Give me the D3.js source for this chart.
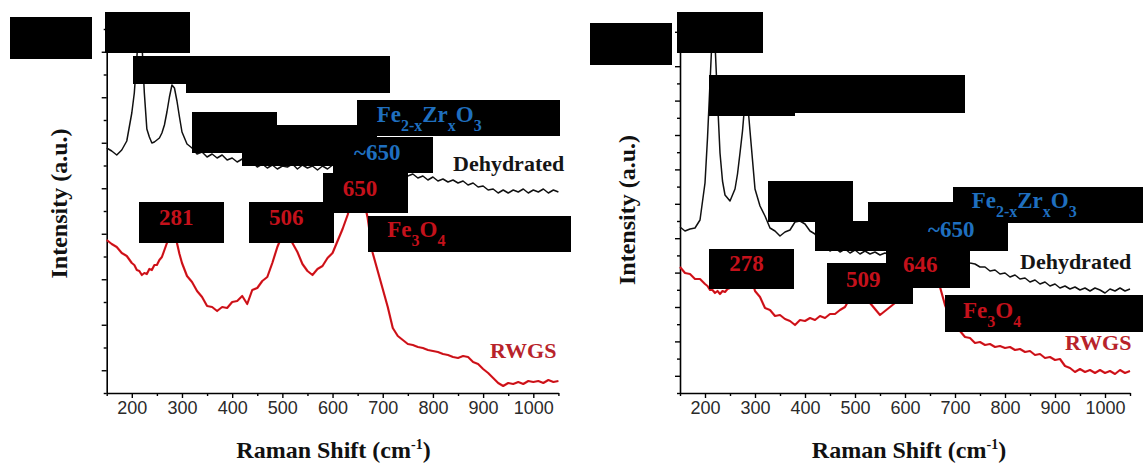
<!DOCTYPE html>
<html>
<head>
<meta charset="utf-8">
<script src="https://cdnjs.cloudflare.com/ajax/libs/d3/7.8.5/d3.min.js"></script>
<style>
  body { margin: 0; background: #fff; }
  svg { display: block; }
</style>
</head>
<body>
<div id="chart"></div>
<script>
// Raman shift grid (cm-1) shared by all four spectra
var shift = [
  150, 160, 170, 180, 190,
  200, 205, 210, 215, 220, 225, 230, 235, 240, 245, 250, 255, 260, 265, 270, 275, 280, 285, 290, 295, 300,
  310, 320, 330, 340, 350, 360, 370, 380, 390, 400,
  410, 420, 430, 440, 450, 460, 470, 480, 490, 500,
  510, 520, 530, 540, 550, 560, 570, 580, 590, 600,
  610, 620, 630, 640, 650, 660, 670, 680, 690, 700,
  710, 720, 730, 740, 750, 760, 770, 780, 790, 800,
  810, 820, 830, 840, 850, 860, 870, 880, 890, 900,
  910, 920, 930, 940, 950, 960, 970, 980, 990, 1000,
  1010, 1020, 1030, 1040, 1050
];

// left panel, intensity in arbitrary counts
var dehydratedLeft = [
  245, 242, 238, 243, 252,
  280, 300, 335, 372, 352, 300, 264, 256, 250, 251, 253, 255, 260, 268, 281, 296, 308, 305, 292, 276, 261,
  249, 245, 239, 241, 236, 239, 235, 238, 233, 235,
  231, 234, 229, 231, 226, 229, 225, 228, 224, 227,
  226, 229, 224, 228, 225, 227, 223, 227, 224, 228,
  227, 231, 230, 234, 232, 235, 231, 232, 227, 228,
  223, 224, 219, 221, 217, 219, 215, 217, 213, 216,
  212, 214, 211, 213, 210, 212, 208, 210, 206, 207,
  203, 204, 200, 203, 200, 203, 201, 204, 200, 203,
  201, 204, 200, 203, 201
];
var rwgsLeft = [
  153, 149, 146, 140, 137,
  130, 128, 123, 122, 118, 120, 119, 124, 123, 128, 128, 133, 136, 143, 150, 160, 166, 162, 150, 139, 130,
  117, 111, 102, 96, 87, 86, 82, 86, 85, 91,
  92, 97, 89, 103, 105, 112, 116, 130, 146, 158,
  160, 150, 141, 129, 122, 118, 124, 127, 135, 140,
  152, 164, 178, 195, 205, 198, 175, 140, 122, 104,
  86, 65, 57, 53, 49, 48, 46, 45, 43, 42,
  41, 39, 38, 36, 35, 37, 36, 31, 29, 24,
  20, 15, 10, 7, 10, 9, 11, 9, 12, 11,
  12, 10, 13, 11, 12
];

// right panel
var dehydratedRight = [
  166, 162, 164, 165, 173,
  210, 255, 310, 365, 350, 293, 240, 212, 198, 195, 192, 198, 204, 219, 240, 262, 292, 292, 262, 233, 204,
  187, 177, 165, 162, 157, 161, 163, 171, 172, 169,
  162, 159, 151, 147, 142, 145, 141, 144, 140, 143,
  139, 142, 139, 141, 138, 140, 138, 141, 138, 142,
  139, 143, 140, 144, 141, 143, 140, 141, 137, 138,
  134, 134, 130, 129, 126, 126, 122, 123, 119, 120,
  116, 118, 114, 115, 111, 113, 109, 111, 107, 109,
  105, 107, 104, 106, 103, 105, 102, 105, 103, 100,
  104, 102, 105, 102, 104
];
var rwgsRight = [
  126, 120, 119, 114, 114,
  109, 107, 103, 103, 100, 102, 99, 102, 101, 104, 105, 111, 114, 121, 124, 128, 129, 125, 118, 111, 102,
  96, 85, 83, 77, 78, 74, 72, 68, 73, 72,
  75, 73, 77, 75, 79, 79, 83, 86, 95, 110,
  122, 108, 90, 84, 78, 82, 86, 90, 96, 103,
  110, 116, 122, 128, 130, 122, 106, 88, 76, 67,
  62, 56, 55, 50, 51, 48, 49, 46, 47, 45,
  46, 43, 44, 41, 42, 38, 39, 35, 36, 33,
  34, 27, 25, 21, 24, 21, 23, 20, 23, 20,
  22, 19, 23, 20, 22
];

var xTickLabels = [200, 300, 400, 500, 600, 700, 800, 900, 1000];
var xMinorTicks = [150, 250, 350, 450, 550, 650, 750, 850, 950, 1050];

var BLUE = "#1f6fbf", RED = "#c4111b", SERIF = "'Liberation Serif', 'Times New Roman', serif";

var svg = d3.select("#chart").append("svg")
            .attr("width", 1143)
            .attr("height", 463)
            .style("background", "#fff");

var panels = [
  {
    left: 106.7, right: 558.4, top: 29, bottom: 393, yStep: 22.75, yCount: 16,
    titleX: 333.5, yTitleX: 67, yTitleY: 203.5,
    dehydrated: dehydratedLeft, rwgs: rwgsLeft,
    boxes: [[10,17,92,59],[105,12,190,53],[133,56,390,84],[186,56,390,93],[192,112,277,153],
            [242,125,377,166],[333,137,433,173],[357,100,560,136],[323,173,408,213],
            [139,202,224,243],[249,202,334,243],[368,216,571,252]],
    labels: [
      {x: 376.7, y: 121.7, c: BLUE, parts: [["Fe"],["2-x",1],["Zr"],["x",1],["O"],["3",1]]},
      {x: 354, y: 160, c: BLUE, parts: [["~650"]]},
      {x: 453, y: 171, c: "#151515", s: 22, parts: [["Dehydrated"]]},
      {x: 342.7, y: 195.7, c: RED, parts: [["650"]]},
      {x: 159, y: 225, c: RED, parts: [["281"]]},
      {x: 269, y: 225, c: RED, parts: [["506"]]},
      {x: 387.3, y: 236.7, c: RED, parts: [["Fe"],["3",1],["O"],["4",1]]},
      {x: 490, y: 358, c: "#b8232a", s: 22, parts: [["RWGS"]]}
    ]
  },
  {
    left: 680, right: 1130, top: 31.8, bottom: 393, yStep: 17.2, yCount: 21,
    titleX: 909, yTitleX: 635, yTitleY: 210,
    dehydrated: dehydratedRight, rwgs: rwgsRight,
    boxes: [[590,23,672,65],[677,12,763,53],[709,75,965,113],[709,75,795,116],[768,181,853,222],
            [868,202,953,222],[815,221,1008,251],[953,187,1143,223],[886,247,970,288],
            [827,263,913,304],[709,249,794,289],[945,295,1143,332]],
    labels: [
      {x: 971.7, y: 208.3, c: BLUE, parts: [["Fe"],["2-x",1],["Zr"],["x",1],["O"],["3",1]]},
      {x: 928, y: 236.7, c: BLUE, parts: [["~650"]]},
      {x: 1020, y: 269.3, c: "#151515", s: 22, parts: [["Dehydrated"]]},
      {x: 903, y: 271.7, c: RED, parts: [["646"]]},
      {x: 846, y: 286.7, c: RED, parts: [["509"]]},
      {x: 729.3, y: 270.7, c: RED, parts: [["278"]]},
      {x: 963, y: 318.3, c: RED, parts: [["Fe"],["3",1],["O"],["4",1]]},
      {x: 1065, y: 350, c: "#b8232a", s: 22, parts: [["RWGS"]]}
    ]
  }
];

panels.forEach(drawPanel);

function drawPanel(p) {
    var yMax = p.yStep * p.yCount;
    var x = d3.scaleLinear().domain([150, 1050]).range([p.left, p.right]);
    var y = d3.scaleLinear().domain([0, yMax]).range([p.bottom, p.top]);

    var g = svg.append("g");

    // x axis: labelled major ticks plus short minor ticks
    var xAxis = g.append("g")
        .attr("transform", "translate(0," + p.bottom + ")")
        .call(d3.axisBottom(x).tickValues(xTickLabels).tickFormat(d3.format("d"))
                .tickSize(5).tickSizeOuter(0).tickPadding(3.7));
    xAxis.select(".domain").attr("stroke", "#000").attr("stroke-width", 1.6);
    xAxis.selectAll(".tick line").attr("stroke", "#000").attr("stroke-width", 1.4);
    xAxis.selectAll(".tick text")
        .attr("fill", "#2a2a2a")
        .style("font-family", "'Liberation Sans', Arial, sans-serif")
        .style("font-size", "18px");
    g.append("g")
        .attr("transform", "translate(0," + p.bottom + ")")
        .call(d3.axisBottom(x).tickValues(xMinorTicks).tickSize(3).tickSizeOuter(0).tickFormat(""))
        .call(function(a) { a.select(".domain").remove(); })
        .selectAll(".tick line").attr("stroke", "#000").attr("stroke-width", 1.4);

    // y axis: unlabelled, alternating tick lengths
    var yTicks = d3.range(p.yCount + 1).map(function(i) { return i * p.yStep; });
    var yAxis = g.append("g")
        .attr("transform", "translate(" + p.left + ",0)")
        .call(d3.axisLeft(y).tickValues(yTicks).tickSizeOuter(0).tickFormat(""));
    yAxis.select(".domain").attr("stroke", "#000").attr("stroke-width", 1.6);
    yAxis.selectAll(".tick line")
        .attr("stroke", "#000").attr("stroke-width", 1.4)
        .attr("x2", function(d, i) { return i % 2 === 1 ? -5 : -3; });

    // spectra
    var line = d3.line()
        .x(function(d) { return x(d[0]); })
        .y(function(d) { return y(d[1]); });

    g.append("path")
        .datum(d3.zip(shift, p.rwgs))
        .attr("d", line)
        .attr("fill", "none")
        .attr("stroke", "#e3141d")
        .attr("stroke-width", 2.2)
        .attr("stroke-linejoin", "round");
    g.append("path")
        .datum(d3.zip(shift, p.rwgs))
        .attr("d", line)
        .attr("fill", "none")
        .attr("stroke", "#7d1515")
        .attr("stroke-width", 0.7)
        .attr("stroke-opacity", 0.6);

    g.append("path")
        .datum(d3.zip(shift, p.dehydrated))
        .attr("d", line)
        .attr("fill", "none")
        .attr("stroke", "#111")
        .attr("stroke-width", 1.5)
        .attr("stroke-linejoin", "round");

    // axis titles
    var xt = g.append("text")
        .attr("x", p.titleX).attr("y", 458)
        .attr("text-anchor", "middle")
        .style("font-family", SERIF).style("font-weight", "bold").style("font-size", "24px")
        .attr("fill", "#111");
    xt.append("tspan").text("Raman Shift (cm");
    xt.append("tspan").attr("dy", -9).style("font-size", "14px").text("-1");
    xt.append("tspan").attr("dy", 9).text(")");

    g.append("text")
        .attr("transform", "translate(" + p.yTitleX + "," + p.yTitleY + ") rotate(-90)")
        .attr("text-anchor", "middle")
        .style("font-family", SERIF).style("font-weight", "bold").style("font-size", "24px")
        .attr("fill", "#111")
        .text("Intensity (a.u.)");

    // black masking boxes
    g.selectAll("rect.mask")
        .data(p.boxes)
        .enter()
        .append("rect")
        .attr("class", "mask")
        .attr("x", function(d) { return d[0]; })
        .attr("y", function(d) { return d[1]; })
        .attr("width", function(d) { return d[2] - d[0]; })
        .attr("height", function(d) { return d[3] - d[1]; })
        .attr("fill", "#000");

    // peak annotations
    p.labels.forEach(function(l) {
        var size = l.s || 23;
        var t = g.append("text")
            .attr("x", l.x).attr("y", l.y)
            .style("font-family", SERIF).style("font-weight", "bold")
            .style("font-size", size + "px")
            .attr("fill", l.c);
        var shifted = false;
        l.parts.forEach(function(part) {
            var span = t.append("tspan").text(part[0]);
            if (part[1]) {
                span.style("font-size", "16px").attr("dy", shifted ? 0 : 9);
                shifted = true;
            } else if (shifted) {
                span.attr("dy", -9);
                shifted = false;
            }
        });
    });
}
</script>
</body>
</html>
